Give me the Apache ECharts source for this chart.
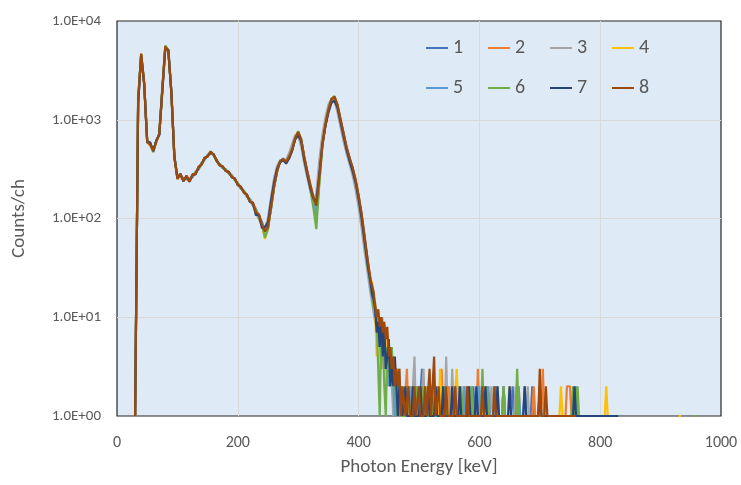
<!DOCTYPE html>
<html><head><meta charset="utf-8">
<script src="https://cdn.jsdelivr.net/npm/echarts@6/dist/echarts.min.js"></script>
<style>html,body{margin:0;padding:0;background:#fff}#c{width:741px;height:485px}</style>
</head><body><div id="c"></div><script>
// Energies (keV) of the main spectrum region
const energies = [30,35,40,45,50,55,60,65,70,75,80,85,90,95,100,105,110,115,120,125,130,135,140,145,150,155,160,165,170,175,180,185,190,195,200,205,210,215,220,225,230,235,240,245,250,255,260,265,270,275,280,285,290,295,300,305,310,315,320,325,330,335,340,345,350,355,360,365,370,375,380,385,390,395,400,405,410,415,420];

const seriesNames = ['1','2','3','4','5','6','7','8'];
const seriesColors = ['#4472C4','#ED7D31','#A5A5A5','#FFC000','#5B9BD5','#70AD47','#264478','#9E480E'];
const xTickLabels = ['0','200','400','600','800','1000'];
const yTickLabels = ['1.0E+00','1.0E+01','1.0E+02','1.0E+03','1.0E+04'];

// Counts/ch for each series at the energies above
const s1 = [1,1600,4500,2400,620,580,470,610,700,1900,5400,5100,1950,430,255,280,240,265,250,262,295,315,365,395,440,462,445,380,355,325,315,285,275,245,230,200,192,165,158,138,118,108,88,78,84,125,205,305,375,405,370,425,495,660,740,640,410,295,215,160,125,255,550,870,1230,1620,1680,1420,990,730,510,410,315,245,160,108,60,38,21];
const s2 = [1,1400,4700,2250,590,550,500,590,730,2050,5600,4900,1850,410,270,262,255,250,240,275,285,325,355,405,425,475,435,390,345,335,305,295,265,252,220,208,186,172,152,142,125,102,92,68,78,128,212,298,385,395,380,415,505,645,755,625,425,305,225,170,120,265,565,890,1260,1590,1720,1390,1010,715,525,395,325,235,170,102,64,34,23];
const s3 = [1,1700,4550,2350,610,570,490,605,710,2100,5450,5050,1900,425,262,268,252,258,248,268,292,318,362,398,432,468,438,382,352,328,308,292,268,250,222,202,188,168,150,135,115,98,85,80,100,165,255,340,390,390,395,460,575,700,700,530,360,260,190,150,180,390,700,1050,1420,1640,1550,1200,850,610,455,355,275,195,130,80,46,28,17];
const s4 = [1,1550,4650,2320,605,545,470,595,725,1980,5550,4950,1880,405,255,275,245,262,238,272,288,322,358,402,428,478,442,378,348,332,312,288,272,244,228,206,192,168,156,142,120,104,88,62,80,132,208,302,378,402,372,418,510,655,760,635,415,290,205,145,95,235,545,875,1240,1610,1710,1410,1005,725,515,405,318,242,162,106,60,35,24];
const s5 = [1,1450,4550,2280,595,565,485,608,715,2020,5480,5020,1920,415,268,265,258,252,250,266,294,316,364,398,434,466,446,388,352,328,306,294,268,250,224,204,188,172,154,138,124,106,92,74,82,126,206,296,382,398,378,422,498,648,745,628,418,298,212,150,100,240,555,885,1255,1595,1690,1405,1015,735,530,412,330,238,168,110,65,37,20];
const s6 = [1,1650,4600,2350,615,575,475,598,728,2080,5650,5050,1930,418,260,272,248,258,242,270,292,318,360,404,432,472,438,382,354,326,314,286,272,246,226,202,190,170,154,140,121,104,86,64,78,130,210,304,372,392,368,428,505,665,765,632,412,285,198,130,78,225,540,895,1270,1630,1740,1395,985,710,505,398,312,236,164,104,58,33,21];
const s7 = [1,1500,4500,2300,590,590,480,615,705,1950,5350,5050,1870,425,258,282,238,268,236,276,282,328,352,408,424,464,448,384,346,336,304,296,262,254,218,210,184,174,148,144,108,110,80,82,92,150,230,320,370,390,360,405,485,630,700,600,395,280,205,160,150,280,560,860,1180,1480,1560,1330,960,690,500,385,305,232,158,100,58,34,22];
const s8 = [1,1520,4650,2330,600,560,490,600,720,2000,5500,5000,1900,420,250,285,240,272,236,282,278,335,350,415,425,478,440,392,345,338,302,298,262,255,218,210,182,176,148,145,115,110,86,74,82,130,210,300,380,400,375,420,500,650,750,630,420,300,220,165,135,265,565,890,1260,1610,1710,1420,1020,740,535,415,330,250,172,112,66,38,24];

// Low-count tails: [energy keV, counts] (null = no counts)
const t1 = [[422.5,18],[425,15],[427.5,12],[430,9],[432.5,11],[435,6],[437.5,8],[440,5],[442.5,7],[445,4],[447.5,6],[450,3],[452.5,4],[455,2],[457.5,3],[460,2],[462.5,3],[465,1],[467.5,2],[470,1],[472.5,2],
  [475,1],[477.5,1],[480,2],[482.5,1],[495,1],[497.5,2],[500,1],[502.5,1],[505,3],[507.5,1],[512.5,1],[515,2],[517.5,1],[520,1],[522.5,2],[525,1],[537.5,1],[540,2],[542.5,1],[545,1],[547.5,2],[550,1],[562.5,1],[565,2],[567.5,1],[572.5,1],[575,2],[577.5,1],[587.5,1],[590,2],[592.5,1],[605,1],[607.5,2],[610,1],[622.5,1],[625,2],[627.5,1],[637.5,1],[640,2],[642.5,1],[652.5,1],[655,2],[657.5,1],[685,1],[687.5,2],[690,1],[770,1]];
const t2 = [[422.5,20],[425,13],[427.5,14],[430,8],[432.5,10],[435,7],[437.5,3],[440,8],[442.5,5],[445,6],[447.5,2],[450,4],[452.5,3],[455,4],[457.5,2],[460,3],[462.5,1],[465,2],[467.5,2],[470,1],[472.5,1],
  [475,1],[477.5,1],[480,3],[482.5,1],[487.5,1],[490,2],[492.5,1],[500,1],[502.5,2],[505,1],[507.5,1],[510,2],[512.5,1],[517.5,1],[520,2],[522.5,1],[535,1],[537.5,3],[540,1],[547.5,1],[550,2],[552.5,1],[560,1],[562.5,2],[565,1],[577.5,1],[580,2],[582.5,1],[595,1],[597.5,3],[600,1],[610,1],[612.5,2],[615,1],[637.5,1],[640,2],[642.5,1],[662.5,1],[665,2],[667.5,1],[687.5,1],[690,2],[692.5,1],[702.5,1],[705,3],[707.5,1],[742.5,1],[745,2],[747.5,2],[750,2],[752.5,1],[790,1]];
const t3 = [[422.5,14],[425,11],[427.5,9],[430,8],[432.5,6],[435,7],[437.5,4],[440,5],[442.5,3],[445,4],[447.5,3],[450,2],[452.5,3],[455,2],[457.5,1],[460,2],[462.5,2],[465,1],[467.5,3],[470,1],[472.5,1],
  [475,1],[482.5,1],[485,2],[487.5,1],[490,1],[492.5,4],[495,1],[497.5,1],[500,2],[502.5,1],[505,1],[507.5,3],[510,1],[515,1],[517.5,2],[520,1],[527.5,1],[530,2],[532.5,1],[542.5,1],[545,4],[547.5,1],[552.5,1],[555,3],[557.5,1],[562.5,1],[565,2],[567.5,1],[572.5,1],[575,2],[577.5,1],[595,1],[597.5,2],[600,1],[617.5,1],[620,2],[622.5,1],[637.5,1],[640,2],[642.5,1],[657.5,1],[660,2],[662.5,1],[677.5,1],[680,2],[682.5,1],[720,1]];
const t4 = [[422.5,22],[425,16],[427.5,11],[430,4],[432.5,12],[435,9],[437.5,6],[440,10],[442.5,4],[445,7],[447.5,3],[450,5],[452.5,2],[455,3],[457.5,4],[460,2],[462.5,2],[465,3],[467.5,1],[470,2],[472.5,1],
  [475,1],[477.5,2],[480,1],[485,1],[487.5,2],[490,1],[497.5,1],[500,2],[502.5,1],[510,1],[512.5,2],[515,1],[532.5,1],[535,3],[537.5,1],[542.5,1],[545,2],[547.5,1],[552.5,1],[555,2],[557.5,1],[560,1],[562.5,3],[565,1],[582.5,1],[585,2],[587.5,1],[605,1],[607.5,2],[610,1],[627.5,1],[630,2],[632.5,1],[647.5,1],[650,2],[652.5,1],[732.5,1],[735,2],[737.5,1],[807.5,1],[810,2],[812.5,1],[815,1],[817.5,null],[930,1],[934,1]];
const t5 = [[422.5,19],[425,17],[427.5,10],[430,12],[432.5,5],[435,8],[437.5,7],[440,4],[442.5,6],[445,3],[447.5,5],[450,2],[452.5,4],[455,3],[457.5,2],[460,1],[462.5,3],[465,2],[467.5,1],[470,2],[472.5,1],
  [475,1],[485,1],[487.5,2],[490,1],[495,1],[497.5,2],[500,1],[507.5,1],[510,2],[512.5,1],[517.5,1],[520,2],[522.5,1],[537.5,1],[540,2],[542.5,1],[557.5,1],[560,2],[562.5,1],[572.5,1],[575,2],[577.5,1],[582.5,1],[585,2],[587.5,1],[597.5,1],[600,2],[602.5,1],[612.5,1],[615,2],[617.5,1],[625,1],[627.5,2],[630,1],[637.5,1],[640,2],[642.5,1],[662.5,1],[665,2],[667.5,1],[672.5,1],[675,2],[677.5,1],[697.5,1],[700,2],[702.5,1],[757.5,1],[760,2],[762.5,1],[780,1]];
const t6 = [[422.5,21],[425,12],[427.5,13],[430,9],[432.5,3],[435,1],[437.5,8],[440,6],[442.5,2],[445,1],[447.5,5],[450,4],[452.5,2],[455,5],[457.5,2],[460,3],[462.5,1],[465,2],[467.5,2],[470,1],[472.5,1],
  [475,1],[480,1],[482.5,2],[485,1],[492.5,1],[495,2],[497.5,1],[502.5,1],[505,2],[507.5,1],[522.5,1],[525,2],[527.5,1],[540,1],[542.5,2],[545,1],[567.5,1],[570,2],[572.5,1],[585,1],[587.5,2],[590,1],[602.5,1],[605,3],[607.5,1],[610,1],[612.5,2],[615,1],[637.5,1],[640,2],[642.5,1],[660,1],[662.5,3],[665,1],[752.5,1],[755,2],[757.5,1],[760,1],[762.5,2],[765,1],[800,1],[802.5,null],[955,1],[959,1]];
const t7 = [[422.5,17],[425,15],[427.5,12],[430,7],[432.5,9],[435,5],[437.5,10],[440,4],[442.5,8],[445,3],[447.5,4],[450,6],[452.5,2],[455,3],[457.5,2],[460,4],[462.5,2],[465,1],[467.5,2],[470,2],[472.5,1],
  [475,1],[477.5,2],[480,1],[487.5,1],[490,2],[492.5,1],[500,1],[502.5,2],[505,1],[512.5,1],[515,2],[517.5,1],[525,1],[527.5,2],[530,1],[537.5,1],[540,2],[542.5,1],[552.5,1],[555,2],[557.5,1],[565,1],[567.5,2],[570,1],[580,1],[582.5,2],[585,1],[592.5,1],[595,2],[597.5,1],[607.5,1],[610,2],[612.5,1],[627.5,1],[630,2],[632.5,1],[647.5,1],[650,2],[652.5,1],[672.5,1],[675,2],[677.5,1],[697.5,1],[700,2],[702.5,1],[755,1],[757.5,2],[760,1],[830,1]];
const t8 = [[422.5,24],[425,18],[427.5,13],[430,10],[432.5,12],[435,8],[437.5,10],[440,7],[442.5,9],[445,6],[447.5,8],[450,4],[452.5,5],[455,3],[457.5,4],[460,2],[462.5,3],[465,2],[467.5,3],[470,1],[472.5,2],
  [475,2],[477.5,1],[480,1],[482.5,2],[485,1],[490,1],[492.5,2],[495,1],[497.5,1],[500,2],[502.5,1],[507.5,1],[510,2],[512.5,1],[515,1],[517.5,3],[520,1],[522.5,1],[525,4],[527.5,1],[530,1],[532.5,2],[535,1],[542.5,1],[545,2],[547.5,1],[557.5,1],[560,2],[562.5,1],[577.5,1],[580,2],[582.5,1],[602.5,1],[605,2],[607.5,1],[622.5,1],[625,2],[627.5,1],[697.5,1],[700,3],[702.5,1],[707.5,1],[710,2],[712.5,1],[760,1]];

const mainValues = [s1,s2,s3,s4,s5,s6,s7,s8];
const tails = [t1,t2,t3,t4,t5,t6,t7,t8];

const FONT = 'Carlito, Calibri, Lato, sans-serif';
const legendLeft = [426,488,550,612];

const chart = echarts.init(document.getElementById('c'), null, {renderer:'canvas'});
chart.setOption({
  animation: false,
  backgroundColor: '#ffffff',
  grid: {left:117, top:21, right:20, bottom:69, containLabel:false, outerBoundsMode:'none',
         show:true, backgroundColor:'#DEEAF6', borderColor:'#262626', borderWidth:1.2},
  legend: seriesNames.map((n,i)=>({
    data:[n], left: legendLeft[i%4], top: i<4 ? 38 : 78, padding:0,
    icon:'rect', itemWidth:22, itemHeight:2,
    textStyle:{fontSize:20, color:'#595959', fontFamily:FONT}
  })),
  xAxis: {
    type:'value', min:0, max:1000, interval:200,
    axisLine:{show:false}, axisTick:{show:false},
    axisLabel:{color:'#595959', fontSize:16, fontFamily:FONT, margin:19, formatter:(v)=>xTickLabels[Math.round(v/200)]},
    splitLine:{show:true, showMinLine:false, showMaxLine:false, lineStyle:{color:'#D9D9D9', width:1}},
    name:'Photon Energy [keV]', nameLocation:'middle', nameGap:42,
    nameTextStyle:{color:'#595959', fontSize:19, fontFamily:FONT}
  },
  yAxis: {
    type:'log', logBase:10, min:1, max:10000,
    axisLine:{show:false}, axisTick:{show:false},
    axisLabel:{color:'#595959', fontSize:15, fontFamily:FONT, margin:16, formatter:(v)=>yTickLabels[Math.round(Math.log10(v))]},
    splitLine:{show:true, showMinLine:false, showMaxLine:false, lineStyle:{color:'#D9D9D9', width:1}},
    name:'Counts/ch', nameLocation:'middle', nameGap:88, nameRotate:90,
    nameTextStyle:{color:'#595959', fontSize:19, fontFamily:FONT}
  },
  series: seriesNames.map((n,i)=>({
    name:n, type:'line', symbol:'none', showSymbol:false, connectNulls:false,
    color: seriesColors[i],
    lineStyle:{width:2.2, color: seriesColors[i]},
    data: energies.map((e,k)=>[e, mainValues[i][k]]).concat(tails[i])
  }))
});
</script></body></html>
